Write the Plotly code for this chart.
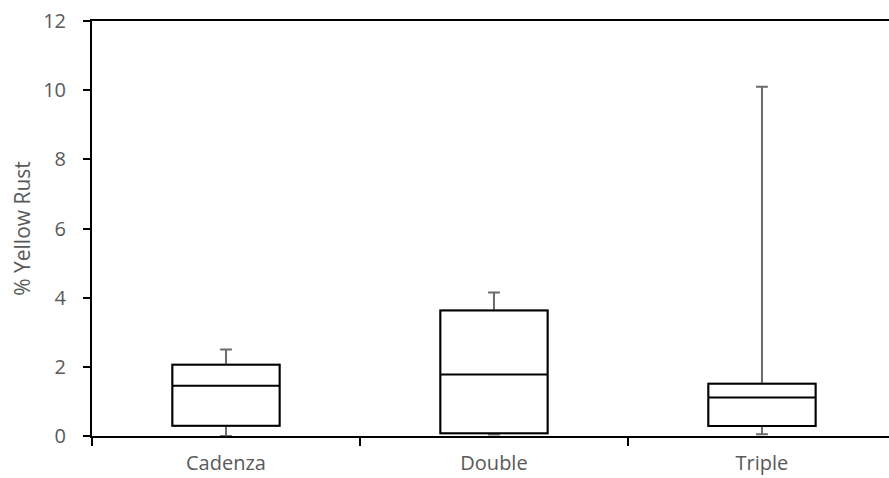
import plotly.graph_objects as go

# Yellow rust severity summaries per treatment
categories = ["Cadenza", "Double", "Triple"]
lower_whisker = [0.0, 0.04, 0.05]
q1_values = [0.30, 0.08, 0.29]
median_values = [1.45, 1.78, 1.11]
q3_values = [2.06, 3.63, 1.51]
upper_whisker = [2.50, 4.15, 10.1]

y_ticks = [0, 2, 4, 6, 8, 10, 12]

text_color = "#595959"
font_family = "Open Sans, Liberation Sans, sans-serif"

fig = go.Figure()

# Grey whiskers (full range) drawn first
fig.add_trace(go.Box(
    x=categories,
    lowerfence=lower_whisker,
    q1=q1_values,
    median=median_values,
    q3=q3_values,
    upperfence=upper_whisker,
    width=0.4,
    whiskerwidth=0.11,
    fillcolor="white",
    line=dict(color="#6b6b6b", width=2),
    boxpoints=False,
    hoverinfo="skip",
    showlegend=False,
))

# Black box body with median line on top
fig.add_trace(go.Box(
    x=categories,
    lowerfence=q1_values,
    q1=q1_values,
    median=median_values,
    q3=q3_values,
    upperfence=q3_values,
    width=0.4,
    whiskerwidth=0,
    fillcolor="white",
    line=dict(color="black", width=2),
    boxpoints=False,
    showlegend=False,
))

fig.update_layout(
    width=889,
    height=478,
    margin=dict(l=92, r=0, t=21, b=42),
    paper_bgcolor="white",
    plot_bgcolor="white",
    boxmode="overlay",
    font=dict(family=font_family, size=20, color=text_color),
    xaxis=dict(
        type="category",
        categoryorder="array",
        categoryarray=categories,
        range=[-0.5, 2.474],
        tickson="boundaries",
        ticks="outside",
        ticklen=8,
        tickwidth=1.5,
        tickcolor="black",
        ticklabelstandoff=8,
        showline=True,
        linecolor="black",
        linewidth=2,
        mirror=True,
        showgrid=False,
        zeroline=False,
        automargin=False,
        tickfont=dict(size=20, color=text_color),
    ),
    yaxis=dict(
        range=[0, 12],
        tickvals=y_ticks,
        ticks="outside",
        ticklen=7,
        tickwidth=1.5,
        tickcolor="black",
        ticklabelstandoff=13,
        showline=True,
        linecolor="black",
        linewidth=2,
        showgrid=False,
        zeroline=False,
        automargin=False,
        tickfont=dict(size=20, color=text_color),
        title=dict(text="% Yellow Rust", font=dict(size=21, color=text_color), standoff=7),
    ),
)

fig.write_html("out.html")
